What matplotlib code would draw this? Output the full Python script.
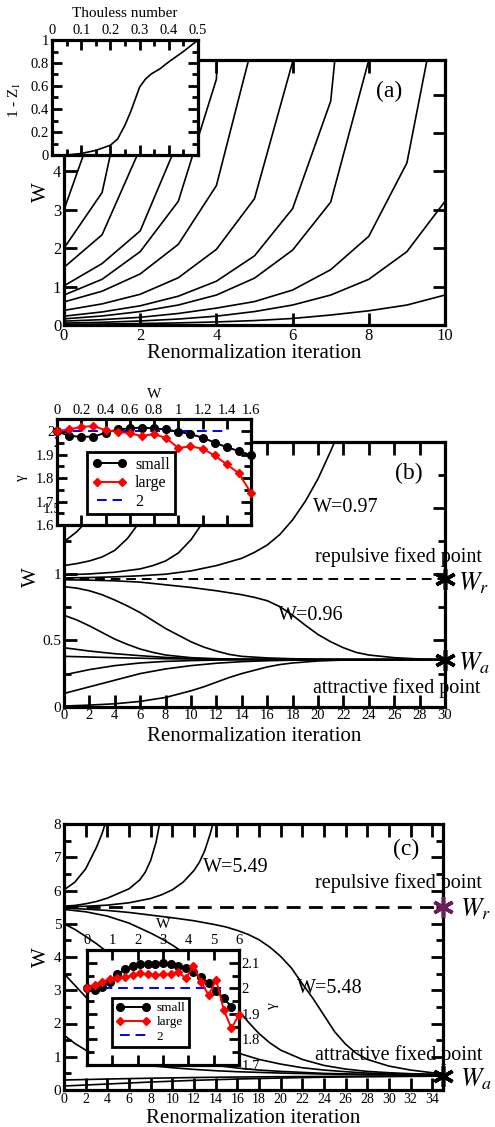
import matplotlib
matplotlib.use('Agg')
import matplotlib.pyplot as plt
from matplotlib.ticker import MultipleLocator, FuncFormatter

plt.rcParams['font.family'] = ['Liberation Serif', 'DejaVu Serif']
plt.rcParams['mathtext.fontset'] = 'stix'

# ---------------- data: panel (a) ----------------
# W at integer iterations 0,1,2,... for each flow
a_flows = [
    [3.0, 5.8, 15.0],
    [2.0, 3.45, 8.0],
    [1.5, 2.35, 4.6, 10.0],
    [1.02, 1.6, 2.45, 4.8, 11.0],
    [0.78, 1.19, 1.91, 3.22, 6.4, 30.0],
    [0.6, 0.88, 1.33, 2.1, 3.63, 7.5, 20.0],
    [0.38, 0.55, 0.8, 1.23, 1.97, 3.29, 6.85, 18.0],
    [0.23, 0.34, 0.5, 0.75, 1.14, 1.8, 3.03, 5.83, 15.7],
    [0.16, 0.235, 0.35, 0.52, 0.78, 1.22, 1.95, 3.2, 6.9, 18.0],
    [0.1, 0.14, 0.2, 0.3, 0.44, 0.61, 0.91, 1.44, 2.31, 4.22, 9.3],
    [0.05, 0.07, 0.105, 0.155, 0.23, 0.35, 0.52, 0.78, 1.19, 1.91, 3.22],
    [0.018, 0.026, 0.038, 0.055, 0.08, 0.115, 0.17, 0.26, 0.37, 0.52, 0.78],
]
thouless = [0, 0.05, 0.1, 0.15, 0.2, 0.225, 0.25, 0.27, 0.29, 0.3, 0.32, 0.34, 0.37, 0.4, 0.45, 0.5]
one_minus_z1 = [0, 0, 0.013, 0.04, 0.085, 0.14, 0.26, 0.38, 0.52, 0.59, 0.66, 0.705, 0.75, 0.81, 0.9, 1.0]

# ---------------- data: panel (b) ----------------
b_flows = [
    ([0, 1, 1.5, 2, 3, 4, 5, 6, 7], [1.245, 1.32, 1.37, 1.42, 1.52, 1.64, 1.8, 2.0, 2.25]),
    ([0, 1, 2, 3, 4, 5, 6, 7, 8, 9], [1.065, 1.08, 1.1, 1.13, 1.18, 1.27, 1.4, 1.57, 1.78, 2.05]),
    ([0, 2, 4, 6, 7, 8, 9, 10, 11, 12, 13, 14], [0.995, 1.002, 1.015, 1.04, 1.065, 1.1, 1.16, 1.26, 1.4, 1.58, 1.8, 2.05]),
    ([0, 2, 4, 6, 8, 10, 12, 14, 15, 16, 17, 18, 19, 20, 21, 22],
     [0.972, 0.975, 0.98, 0.988, 1.0, 1.025, 1.065, 1.12, 1.165, 1.22, 1.3, 1.41, 1.55, 1.72, 1.93, 2.15]),
    ([0, 2, 4, 6, 8, 10, 12, 14, 15, 16, 17, 18, 19, 20, 21, 22, 23, 24, 26, 28, 30],
     [0.958, 0.955, 0.95, 0.94, 0.92, 0.9, 0.875, 0.845, 0.825, 0.8, 0.755, 0.69, 0.615, 0.545, 0.49, 0.445, 0.41, 0.39, 0.37, 0.36, 0.355]),
    ([0, 1, 2, 3, 4, 5, 6, 7, 8, 9, 10, 11, 12, 13, 14, 16, 18, 20, 24, 30],
     [0.906, 0.895, 0.875, 0.845, 0.805, 0.76, 0.71, 0.65, 0.59, 0.54, 0.49, 0.45, 0.42, 0.395, 0.38, 0.368, 0.362, 0.358, 0.356, 0.355]),
    ([0, 1, 2, 3, 4, 5, 6, 7, 8, 10, 12, 14, 18, 30],
     [0.69, 0.655, 0.61, 0.56, 0.51, 0.47, 0.435, 0.41, 0.39, 0.37, 0.362, 0.358, 0.356, 0.355]),
    ([0, 2, 4, 6, 8, 10, 12, 16, 30], [0.445, 0.42, 0.4, 0.385, 0.372, 0.364, 0.36, 0.356, 0.355]),
    ([0, 4, 8, 12, 30], [0.38, 0.37, 0.362, 0.358, 0.355]),
    ([0, 2, 4, 6, 8, 10, 12, 16, 30], [0.24, 0.28, 0.31, 0.33, 0.342, 0.348, 0.352, 0.355, 0.355]),
    ([0, 2, 4, 6, 8, 10, 12, 14, 16, 18, 20, 30], [0.1, 0.15, 0.2, 0.25, 0.285, 0.31, 0.328, 0.34, 0.347, 0.351, 0.354, 0.355]),
    ([0, 2, 4, 6, 8, 10, 11, 12, 13, 14, 15, 16, 17, 18, 20, 22, 24, 30],
     [0.005, 0.012, 0.022, 0.04, 0.07, 0.12, 0.15, 0.185, 0.22, 0.25, 0.275, 0.3, 0.318, 0.33, 0.345, 0.352, 0.355, 0.355]),
]
b_Wr = 0.965
b_Wa = 0.355
b_W = [0, 0.1, 0.2, 0.3, 0.4, 0.5, 0.6, 0.7, 0.8, 0.9, 1.0, 1.1, 1.2, 1.3, 1.4, 1.5, 1.6]
b_small = [2.0, 1.979, 1.976, 1.976, 1.993, 2.007, 2.011, 2.015, 2.011, 2.007, 1.997, 1.987, 1.972, 1.951, 1.931, 1.915, 1.897]
b_large = [2.0, 2.007, 2.018, 2.021, 2.004, 1.997, 1.99, 1.979, 1.987, 1.97, 1.928, 1.935, 1.925, 1.896, 1.858, 1.82, 1.736]
b_ref_W = [0, 1.4]

# ---------------- data: panel (c) ----------------
c_flows = [
    ([0, 1, 2, 3, 3.5, 4, 4.5], [6.02, 6.25, 6.65, 7.3, 7.7, 8.2, 8.8]),
    ([0, 1, 2, 3, 4, 5, 6, 7, 7.5, 8, 8.5, 9], [5.53, 5.55, 5.6, 5.67, 5.77, 5.91, 6.05, 6.32, 6.55, 6.9, 7.45, 8.3]),
    ([0, 2, 4, 6, 8, 9, 10, 11, 12, 12.5, 13, 13.5, 14], [5.515, 5.525, 5.56, 5.63, 5.76, 5.87, 6.02, 6.25, 6.6, 6.85, 7.2, 7.7, 8.3]),
    ([0, 2, 4, 6, 8, 10, 12, 14, 15, 16, 17, 18, 19, 20, 21, 22, 23, 24, 25, 26, 27, 28, 30, 32, 34, 35],
     [5.47, 5.44, 5.4, 5.34, 5.26, 5.18, 5.09, 4.97, 4.9, 4.8, 4.68, 4.52, 4.3, 4.02, 3.67, 3.2, 2.75, 2.25, 1.75, 1.38, 1.1, 0.92, 0.72, 0.6, 0.52, 0.5]),
    ([0, 2, 4, 6, 8, 9, 10, 11, 12, 13, 14, 15, 16, 17, 18, 19, 20, 22, 24, 26, 28, 30, 32, 35],
     [5.43, 5.36, 5.23, 5.02, 4.72, 4.55, 4.36, 4.14, 3.9, 3.6, 3.25, 2.85, 2.45, 2.05, 1.7, 1.42, 1.2, 0.92, 0.74, 0.63, 0.56, 0.52, 0.49, 0.47]),
    ([0, 1, 2, 3, 4, 5, 6, 7, 8, 9, 10, 11, 12, 13, 14, 15, 16, 18, 20, 22, 24, 26, 28, 30, 35],
     [5.0, 4.83, 4.62, 4.4, 4.15, 3.88, 3.6, 3.3, 3.0, 2.7, 2.4, 2.1, 1.85, 1.6, 1.4, 1.25, 1.12, 0.92, 0.78, 0.67, 0.6, 0.55, 0.51, 0.49, 0.46]),
    ([0, 1, 2, 3, 4, 5, 6, 7, 8, 10, 12, 14, 16, 18, 20, 24, 28, 35],
     [3.5, 3.15, 2.8, 2.45, 2.12, 1.82, 1.57, 1.37, 1.22, 1.0, 0.85, 0.74, 0.66, 0.6, 0.56, 0.5, 0.47, 0.45]),
    ([0, 1, 2, 3, 4, 6, 8, 10, 12, 14, 16, 20, 24, 28, 35],
     [1.65, 1.4, 1.2, 1.05, 0.95, 0.82, 0.73, 0.67, 0.62, 0.58, 0.55, 0.51, 0.48, 0.46, 0.45]),
    ([0, 4, 8, 12, 16, 20, 25, 30, 35], [0.3, 0.33, 0.355, 0.375, 0.39, 0.4, 0.41, 0.415, 0.42]),
    ([0, 4, 8, 12, 16, 20, 24, 28, 32, 35], [0.12, 0.18, 0.24, 0.29, 0.33, 0.36, 0.385, 0.4, 0.41, 0.415]),
]
c_Wr = 5.51
c_Wa = 0.42
c_W = [0, 0.3, 0.6, 0.9, 1.2, 1.5, 1.8, 2.1, 2.4, 2.7, 3.0, 3.3, 3.6, 3.9, 4.2, 4.5, 4.8, 5.1, 5.4, 5.7, 6.0]
c_small = [2.0, 1.993, 2.006, 2.026, 2.056, 2.074, 2.087, 2.095, 2.095, 2.095, 2.1, 2.095, 2.088, 2.078, 2.063, 2.043, 2.02, 1.991, 1.961, 1.928, None]
c_large = [2.0, 2.013, 2.026, 2.037, 2.039, 2.043, 2.052, 2.059, 2.055, 2.052, 2.055, 2.055, 2.065, 2.039, 2.087, 2.026, 1.974, 2.033, 1.915, 1.844, 1.896]
c_ref_W = [0, 5.5]

# ---------------- figure ----------------
FW, FH = 495.0, 1127.0
fig = plt.figure(figsize=(FW / 100, FH / 100), dpi=100)


def box(l, t, r, b):
    return [l / FW, 1 - b / FH, (r - l) / FW, (b - t) / FH]


gfmt = FuncFormatter(lambda v, p: '%g' % round(v, 5))


def style(ax, xmaj, ymaj, xmin=None, ymin=None, lsize=11, majlen=9, minlen=5, sw=2.3):
    ax.tick_params(which='both', direction='in', top=True, right=True, width=2, labelsize=lsize, pad=2)
    ax.tick_params(which='major', length=majlen)
    ax.tick_params(which='minor', length=minlen)
    for s in ax.spines.values():
        s.set_linewidth(sw)
    ax.xaxis.set_major_locator(MultipleLocator(xmaj))
    ax.yaxis.set_major_locator(MultipleLocator(ymaj))
    if xmin:
        ax.xaxis.set_minor_locator(MultipleLocator(xmin))
    if ymin:
        ax.yaxis.set_minor_locator(MultipleLocator(ymin))
    ax.xaxis.set_major_formatter(gfmt)
    ax.yaxis.set_major_formatter(gfmt)


lw_curve = 1.2
big = 15
txt = 14.5
wlab = 18.5

# ---- panel (a) ----
axA = fig.add_axes(box(64, 60, 445, 325))
for f in a_flows:
    axA.plot(range(len(f)), f, color='k', lw=lw_curve)
axA.set_xlim(0, 10)
axA.set_ylim(0, 6.9)
style(axA, 2, 1, lsize=12)
axA.set_xlabel('Renormalization iteration', fontsize=big)
axA.set_ylabel('W', fontsize=big)
axA.xaxis.set_label_coords(0.5, -0.07)
axA.yaxis.set_label_coords(-0.035, 0.5)
axA.text(8.2, 5.93, '(a)', fontsize=17)

axAi = fig.add_axes(box(52, 40, 198, 155))
axAi.set_facecolor('white')
axAi.plot(thouless, one_minus_z1, color='k', lw=lw_curve)
axAi.set_xlim(0, 0.5)
axAi.set_ylim(0, 1)
style(axAi, 0.1, 0.2, 0.05, 0.1, lsize=10.5, majlen=7, minlen=4, sw=2.3)
axAi.xaxis.tick_top()
axAi.tick_params(which='both', bottom=True, top=True, labelbottom=False, labeltop=True)
axAi.xaxis.set_label_position('top')
axAi.set_xlabel('Thouless number', fontsize=11)
axAi.set_ylabel('1 - Z$_1$', fontsize=11)
axAi.xaxis.set_label_coords(0.5, 1.2)
axAi.yaxis.set_label_coords(-0.2, 0.48)

# ---- panel (b) ----
axB = fig.add_axes(box(64, 441.7, 445, 706.7))
for it, w in b_flows:
    axB.plot(it, w, color='k', lw=lw_curve)
axB.plot([0, 30], [b_Wr, b_Wr], color='k', lw=1.4, dashes=(5, 3))
for wv in (b_Wr, b_Wa):
    axB.plot([30], [wv], marker=(6, 2, 0), ms=15, mew=2.6, color='k', clip_on=False, zorder=6)
axB.set_xlim(0, 30)
axB.set_ylim(0, 2.0)
style(axB, 2, 0.5, None, 0.25, lsize=11)
axB.tick_params(axis='x', labelsize=10.5)
axB.set_xlabel('Renormalization iteration', fontsize=big)
axB.set_ylabel('W', fontsize=big)
axB.xaxis.set_label_coords(0.5, -0.075)
axB.yaxis.set_label_coords(-0.06, 0.49)
axB.text(19.76, 1.09, 'repulsive fixed point', fontsize=txt)
axB.text(19.6, 0.10, 'attractive fixed point', fontsize=txt)
axB.text(19.6, 1.47, 'W=0.97', fontsize=txt)
axB.text(16.85, 0.654, 'W=0.96', fontsize=txt)
axB.text(26.1, 1.72, '(b)', fontsize=17)
axB.text(31.0, 0.88, '$W_r$', fontsize=wlab)
axB.text(31.0, 0.277, '$W_a$', fontsize=wlab)

axBi = fig.add_axes(box(57, 419.3, 251, 525))
axBi.set_facecolor('white')
axBi.plot(b_W, b_small, color='k', lw=1.4, marker='o', ms=5.5, clip_on=False, zorder=4, label='small')
axBi.plot(b_W, b_large, color='#ff0000', lw=1.4, marker='D', ms=4, clip_on=False, zorder=5, label='large')
axBi.plot(b_ref_W, [2, 2], color='#0000ff', lw=1.4, dashes=(5, 3), label='2')
axBi.set_xlim(0, 1.6)
axBi.set_ylim(1.6, 2.05)
style(axBi, 0.2, 0.1, None, 0.05, lsize=10.5, majlen=7, minlen=5, sw=2.3)
axBi.xaxis.tick_top()
axBi.tick_params(which='both', bottom=True, top=True, labelbottom=False, labeltop=True)
axBi.xaxis.set_label_position('top')
axBi.set_xlabel('W', fontsize=11)
axBi.set_ylabel('γ', fontsize=11)
axBi.xaxis.set_label_coords(0.5, 1.2)
axBi.yaxis.set_label_coords(-0.15, 0.45)
legB = axBi.legend(loc='upper left', bbox_to_anchor=(0.155, 0.69), fontsize=11.5, numpoints=2,
                   handlelength=2.2, fancybox=False, framealpha=1, edgecolor='k', borderpad=0.3,
                   labelspacing=0.15, handletextpad=0.5, borderaxespad=0)
legB.get_frame().set_linewidth(2)

# ---- panel (c) ----
axC = fig.add_axes(box(64, 824, 443, 1090))
for it, w in c_flows:
    axC.plot(it, w, color='k', lw=lw_curve)
axC.plot([0, 35], [c_Wr, c_Wr], color='k', lw=2.0, dashes=(5, 3))
axC.plot([35], [c_Wr], marker=(6, 2, 0), ms=15, mew=2.6, color='#6d1d5a', clip_on=False, zorder=6)
axC.plot([35], [c_Wa], marker=(6, 2, 0), ms=15, mew=2.6, color='k', clip_on=False, zorder=6)
axC.set_xlim(0, 35)
axC.set_ylim(0, 8)
style(axC, 2, 1, None, 0.5, lsize=11)
axC.tick_params(axis='x', labelsize=10)
axC.set_xlabel('Renormalization iteration', fontsize=big)
axC.set_ylabel('W', fontsize=big)
axC.xaxis.set_label_coords(0.5, -0.072)
axC.yaxis.set_label_coords(-0.035, 0.5)
axC.text(23.2, 6.07, 'repulsive fixed point', fontsize=txt)
axC.text(23.2, 0.9, 'attractive fixed point', fontsize=txt)
axC.text(12.85, 6.57, 'W=5.49', fontsize=txt)
axC.text(21.5, 2.91, 'W=5.48', fontsize=txt)
axC.text(30.4, 7.07, '(c)', fontsize=17)
axC.text(36.6, 5.21, '$W_r$', fontsize=wlab)
axC.text(36.6, 0.1, '$W_a$', fontsize=wlab)

axCi = fig.add_axes(box(87, 950, 239, 1065))
axCi.set_facecolor('white')
cs_W = [w for w, g in zip(c_W, c_small) if g is not None]
cs_g = [g for g in c_small if g is not None]
axCi.plot(cs_W, cs_g, color='k', lw=1.4, marker='o', ms=5.5, clip_on=False, zorder=4, label='small')
axCi.plot(c_W, c_large, color='#ff0000', lw=1.4, marker='D', ms=4, clip_on=False, zorder=5, label='large')
axCi.plot(c_ref_W, [2, 2], color='#0000ff', lw=1.4, dashes=(5, 3), label='2')
axCi.set_xlim(0, 6)
axCi.set_ylim(1.7, 2.15)
style(axCi, 1, 0.1, None, 0.05, lsize=10.5, majlen=7, minlen=5, sw=2.3)
axCi.xaxis.tick_top()
axCi.yaxis.tick_right()
axCi.tick_params(which='both', bottom=True, top=True, left=True, right=True,
                 labelbottom=False, labeltop=True, labelleft=False, labelright=True)
axCi.xaxis.set_label_position('top')
axCi.yaxis.set_label_position('right')
axCi.set_xlabel('W', fontsize=11)
axCi.set_ylabel('γ', fontsize=11)
axCi.xaxis.set_label_coords(0.5, 1.19)
axCi.yaxis.set_label_coords(1.18, 0.52)
legC = axCi.legend(loc='upper left', bbox_to_anchor=(0.164, 0.583), fontsize=9.5, numpoints=2,
                   handlelength=2.6, fancybox=False, framealpha=1, edgecolor='k', borderpad=0.3,
                   labelspacing=0.15, handletextpad=0.5, borderaxespad=0)
legC.get_frame().set_linewidth(2)

fig.savefig('out.png', dpi=100)
